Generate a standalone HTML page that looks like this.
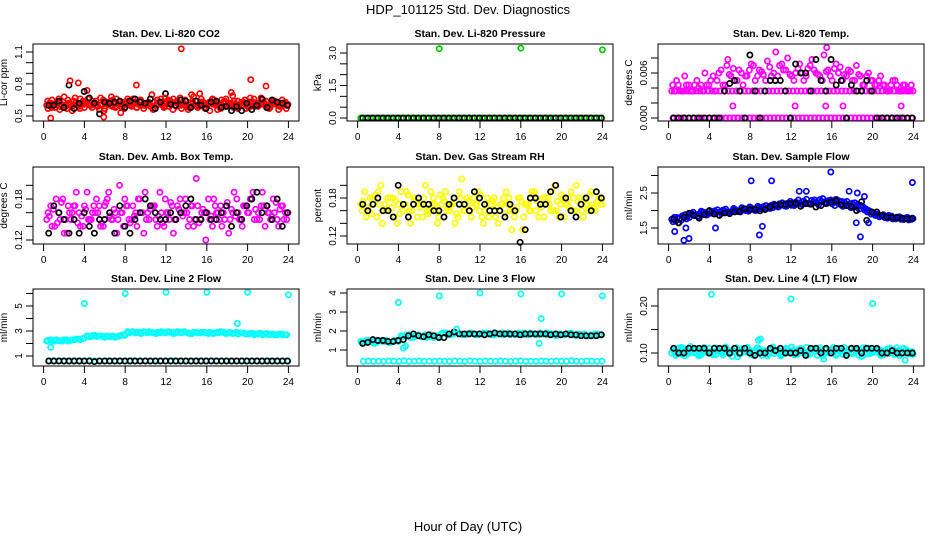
<!DOCTYPE html>
<html><head><meta charset="utf-8"><style>
html,body{margin:0;padding:0;background:#fff;}
svg{display:block;font-family:"Liberation Sans",sans-serif;}
</style></head><body>
<svg id="chart" width="936" height="540" viewBox="0 0 936 540" xmlns="http://www.w3.org/2000/svg">
<text x="468" y="14" text-anchor="middle" font-size="13">HDP_101125  Std. Dev. Diagnostics</text>
<text x="468" y="531" text-anchor="middle" font-size="13">Hour of Day (UTC)</text>
</svg>
<script>
const xTicks=[0,4,8,12,16,20,24];
// P1 CO2
const co2A=[0.60,0.62,0.58,0.66,0.63,0.57,0.61,0.67,0.59,0.64,0.74,0.60,0.62,0.56,0.65,0.61,0.68,0.58,0.63,0.60,0.66,0.59,0.62,0.64,0.57,0.61,0.70,0.60,0.63,0.58,0.65,0.62,0.59,0.67,0.61,0.56,0.64,0.60,0.63,0.58,0.62,0.66,0.60,0.57,0.64,0.61,0.69,0.59,0.62,0.65,0.58,0.63,0.60,0.67,0.61,0.57,0.64,0.62,0.59,0.63];
const co2B=[0.57,0.65,0.61,0.59,0.68,0.62,0.55,0.63,0.66,0.58,0.61,0.64,0.60,0.67,0.57,0.62,0.65,0.59,0.53,0.63,0.61,0.66,0.58,0.64,0.60,0.62,0.56,0.65,0.61,0.63,0.59,0.66,0.62,0.57,0.64,0.60,0.68,0.58,0.63,0.61,0.55,0.65,0.62,0.59,0.66,0.60,0.64,0.57,0.63,0.61,0.67,0.59,0.62,0.65,0.58,0.60,0.64,0.56,0.62,0.60];
const co2C=[0.62,0.60,0.63,0.61,0.59,0.62,0.64,0.60,0.61,0.63,0.60,0.62,0.59,0.61,0.63,0.60,0.62,0.61,0.58,0.62,0.60,0.63,0.61,0.60,0.62,0.59,0.63,0.61,0.60,0.62,0.64,0.60,0.61,0.63,0.59,0.62,0.60,0.61,0.63,0.60,0.62,0.61,0.59,0.63,0.60,0.62,0.61,0.60,0.63,0.59,0.62,0.60,0.61,0.63,0.60,0.62,0.61,0.59,0.62,0.61];
const co2D=[0.64,0.58,0.62,0.56,0.60,0.65,0.59,0.63,0.57,0.61,0.66,0.58,0.64,0.60,0.55,0.63,0.59,0.66,0.61,0.57,0.64,0.62,0.58,0.65,0.60,0.63,0.57,0.61,0.66,0.59,0.62,0.56,0.64,0.60,0.65,0.58,0.62,0.59,0.66,0.57,0.63,0.61,0.56,0.65,0.59,0.62,0.58,0.64,0.60,0.57,0.63,0.66,0.59,0.61,0.64,0.58,0.62,0.60,0.65,0.57];
const co2OutT=[13.5,2.6,3.4,9.1,20.3,21.8,0.7,5.9,18.4,15.3,11.9,14.5];
const co2OutV=[1.13,0.83,0.81,0.79,0.84,0.78,0.48,0.49,0.72,0.71,0.67,0.70];
const co2K=[0.60,0.60,0.64,0.58,0.79,0.57,0.62,0.73,0.67,0.62,0.52,0.63,0.62,0.63,0.64,0.58,0.64,0.66,0.63,0.62,0.66,0.57,0.63,0.71,0.61,0.60,0.65,0.64,0.58,0.64,0.60,0.57,0.63,0.64,0.58,0.59,0.55,0.59,0.55,0.62,0.56,0.60,0.66,0.58,0.65,0.63,0.62,0.60];
// P2 pressure
const presA=[0,0,0,0,0,0,0,0,0,0,0,0,0,0,0,0,0,0,0,0,0,0,0,0,0,0,0,0,0,0,0,0,0,0,0,0,0,0,0,0,0,0,0,0,0,0,0,0];
const presOutT=[8,16,24];
const presOutV=[3.2,3.22,3.15];
const presK=[0,0,0,0,0,0,0,0,0,0,0,0,0,0,0,0,0,0,0,0,0,0,0,0,0,0,0,0,0,0,0,0,0,0,0,0,0,0,0,0,0,0,0,0,0,0,0,0];
// P3 temp
const tmpA=[0.0036,0.0036,0.0036,0.0036,0.0036,0.0036,0.0036,0.0036,0.0036,0.0036,0.0036,0.0036,0.0036,0.0036,0.0036,0.0036,0.0036,0.0036,0.0036,0.0036,0.0036,0.0036,0.0036,0.0036,0.0036,0.0036,0.0036,0.0036,0.0036,0.0036,0.0036,0.0036,0.0036,0.0036,0.0036,0.0036,0.0036,0.0036,0.0036,0.0036,0.0036,0.0036,0.0036,0.0036,0.0036,0.0036,0.0036,0.0036,0.0036,0.0036,0.0036,0.0036,0.0036,0.0036,0.0036,0.0036,0.0036,0.0036,0.0036,0.0036];
const tmpB=[0,0,0,0,0,0,0,0,0,0,0,0,0,0,0,0,0,0,0,0,0,0,0,0,0,0,0,0,0,0,0,0,0,0,0,0,0,0,0,0,0,0,0,0,0,0,0,0,0,0,0,0,0,0,0,0,0,0,0,0];
const tmpC=[0.0036,0.0044,0.0036,0.0044,0.0036,0.0044,0.0040,0.0036,0.0044,0.0050,0.0036,0.0060,0.0044,0.0070,0.0056,0.0050,0.0064,0.0044,0.0056,0.0072,0.0050,0.0064,0.0058,0.0076,0.0056,0.0050,0.0070,0.0064,0.0080,0.0056,0.0060,0.0072,0.0050,0.0066,0.0078,0.0060,0.0056,0.0084,0.0064,0.0050,0.0072,0.0068,0.0058,0.0064,0.0050,0.0070,0.0056,0.0044,0.0060,0.0050,0.0044,0.0056,0.0044,0.0036,0.0050,0.0044,0.0036,0.0044,0.0036,0.0036];
const tmpD=[0.0044,0.0050,0.0036,0.0056,0.0044,0.0036,0.0050,0.0044,0.0060,0.0044,0.0056,0.0050,0.0064,0.0044,0.0058,0.0066,0.0050,0.0060,0.0056,0.0064,0.0070,0.0056,0.0062,0.0050,0.0068,0.0060,0.0056,0.0072,0.0064,0.0058,0.0050,0.0066,0.0060,0.0056,0.0070,0.0064,0.0058,0.0050,0.0062,0.0056,0.0066,0.0060,0.0050,0.0056,0.0062,0.0050,0.0058,0.0044,0.0056,0.0050,0.0044,0.0050,0.0044,0.0036,0.0044,0.0050,0.0036,0.0044,0.0036,0.0044];
const tmpOutT=[15.5,10.5,5.8,6.3,12.4,15.4,17.1,22.8];
const tmpOutV=[0.0094,0.0088,0.0078,0.0016,0.0016,0.0016,0.0016,0.0016];
const tmpK=[0,0,0,0,0,0,0,0,0,0,0.0036,0.0046,0.0050,0.0036,0,0.0084,0.0036,0,0.0036,0.0050,0.0050,0.0050,0.0036,0,0.0072,0.0060,0.0060,0.0036,0.0078,0.0050,0.0036,0.0078,0.0044,0.0050,0,0.0044,0.0036,0.0036,0.0050,0.0036,0,0,0,0,0,0,0,0];
// P4 amb box temp
const ambA=[.15,.17,.14,.16,.18,.13,.15,.17,.16,.14,.19,.15,.16,.17,.14,.18,.15,.16,.20,.14,.17,.15,.16,.18,.13,.16,.17,.15,.19,.14,.16,.17,.15,.18,.16,.14,.17,.21,.15,.16,.18,.14,.16,.17,.15,.13,.16,.18,.15,.17,.16,.19,.15,.17,.14,.16,.18,.15,.17,.16];
const ambB=[.16,.14,.18,.15,.13,.17,.16,.19,.14,.17,.15,.16,.18,.14,.17,.19,.15,.13,.16,.18,.15,.17,.14,.16,.19,.15,.17,.14,.16,.18,.15,.13,.17,.16,.18,.15,.14,.17,.16,.12,.15,.18,.16,.14,.17,.15,.19,.16,.14,.17,.18,.15,.16,.19,.17,.15,.16,.14,.17,.15];
const ambC=[.155,.165,.145,.175,.15,.16,.17,.145,.155,.165,.15,.17,.16,.145,.175,.155,.165,.15,.16,.17,.145,.155,.18,.16,.15,.165,.17,.155,.145,.16,.175,.15,.165,.155,.16,.17,.15,.145,.165,.16,.155,.17,.15,.16,.175,.165,.155,.15,.17,.16,.18,.165,.15,.17,.16,.155,.175,.165,.15,.16];
const ambK=[.13,.17,.16,.15,.13,.15,.13,.16,.14,.13,.15,.15,.16,.13,.17,.14,.13,.15,.16,.18,.17,.16,.15,.15,.16,.15,.16,.17,.18,.15,.15,.16,.15,.15,.16,.17,.14,.16,.15,.17,.18,.19,.16,.17,.15,.18,.14,.16];
// P5 RH
const rhA=[.17,.19,.16,.18,.15,.20,.17,.16,.18,.14,.19,.17,.16,.18,.15,.17,.20,.16,.18,.14,.17,.19,.16,.18,.15,.21,.17,.16,.18,.19,.15,.17,.16,.18,.14,.17,.19,.16,.15,.18,.13,.17,.16,.19,.15,.18,.17,.16,.20,.15,.18,.17,.19,.16,.18,.15,.17,.19,.16,.18];
const rhB=[.16,.15,.18,.17,.19,.14,.16,.18,.15,.17,.16,.19,.14,.18,.17,.15,.16,.19,.17,.15,.18,.16,.17,.14,.19,.16,.18,.15,.17,.16,.14,.18,.17,.15,.16,.18,.17,.13,.16,.18,.15,.17,.19,.16,.17,.15,.18,.19,.16,.17,.15,.18,.16,.20,.17,.18,.16,.17,.19,.17];
const rhC=[.175,.165,.155,.185,.17,.16,.18,.165,.175,.155,.17,.185,.16,.175,.165,.18,.155,.17,.16,.185,.175,.165,.17,.155,.18,.16,.175,.165,.17,.185,.16,.15,.175,.165,.17,.155,.18,.16,.165,.175,.17,.16,.185,.175,.165,.18,.17,.16,.175,.185,.17,.165,.18,.175,.16,.17,.185,.165,.175,.17];
const rhK=[.17,.16,.17,.18,.16,.16,.15,.20,.17,.15,.17,.18,.17,.17,.16,.16,.15,.17,.18,.17,.17,.16,.19,.18,.17,.16,.16,.16,.15,.17,.16,.11,.13,.18,.18,.17,.17,.19,.20,.15,.18,.16,.15,.17,.18,.16,.19,.18];
// P6 sample flow
const sfA=[1.75,1.70,1.78,1.82,1.85,1.90,1.88,1.92,1.95,1.90,1.97,1.93,1.96,1.99,1.94,1.98,2.00,1.96,2.02,1.98,2.05,2.01,2.06,2.04,2.10,2.08,2.12,2.15,2.13,2.18,2.16,2.20,2.18,2.22,2.19,2.24,2.21,2.26,2.23,2.28,2.25,2.22,2.26,2.20,2.18,2.15,2.17,2.12,2.05,1.98,1.92,1.88,1.85,1.82,1.80,1.78,1.80,1.77,1.79,1.76];
const sfB=[1.68,1.80,1.72,1.88,1.80,1.95,1.84,1.98,1.89,2.00,1.91,2.02,1.92,2.04,1.95,2.06,1.97,2.08,2.00,2.10,2.02,2.12,2.04,2.14,2.06,2.18,2.10,2.22,2.12,2.26,2.14,2.30,2.17,2.32,2.18,2.30,2.16,2.34,2.20,2.30,2.14,2.28,2.12,2.26,2.08,2.22,2.04,2.10,1.96,1.90,1.86,1.82,1.88,1.78,1.84,1.76,1.82,1.74,1.80,1.75];
const sfC=[1.80,1.65,1.85,1.76,1.92,1.86,1.82,1.95,1.87,1.93,1.99,1.88,2.01,1.94,1.97,2.03,1.99,2.05,2.03,2.07,2.00,2.09,2.11,2.07,2.15,2.13,2.19,2.17,2.21,2.15,2.24,2.22,2.27,2.20,2.29,2.23,2.31,2.24,2.28,2.19,2.32,2.18,2.24,2.14,2.21,2.10,2.15,2.02,2.00,1.94,1.90,1.84,1.80,1.86,1.76,1.81,1.75,1.78,1.73,1.77];
const sfOutT=[0.6,1.5,2.0,1.7,4.6,8.1,10.1,8.9,9.2,15.9,18.8,18.4,19.6,17.7,18.5,23.9,13.5,12.8,19.2];
const sfOutV=[1.40,1.15,1.20,1.50,1.50,2.85,2.85,1.30,1.55,3.10,1.25,1.65,1.65,2.55,2.50,2.80,2.55,2.55,2.40];
const sfK=[1.75,1.65,1.80,1.92,1.86,1.78,1.88,1.98,1.90,1.86,1.93,1.91,1.96,1.97,2.05,2.02,2.04,1.99,2.03,2.10,2.15,2.17,2.18,2.20,2.20,2.12,2.20,2.18,2.10,2.14,2.20,2.24,2.28,2.16,2.14,2.12,2.00,2.25,1.72,1.96,1.96,1.86,1.82,1.80,1.80,1.78,1.76,1.78];
// P7 line 2
const l2A=[2.2,2.3,2.2,2.25,2.2,2.3,2.25,2.3,2.35,2.4,2.6,2.55,2.65,2.6,2.55,2.6,2.55,2.5,2.6,2.7,2.95,2.9,2.85,2.9,2.95,2.85,2.9,2.8,2.85,2.9,2.95,2.9,2.85,2.9,2.95,2.85,2.8,2.9,2.85,2.9,2.8,2.85,2.9,2.95,2.9,2.85,2.8,2.9,2.85,2.8,2.75,2.8,2.75,2.8,2.75,2.7,2.75,2.7,2.75,2.7];
const l2B=[2.25,2.15,2.3,2.2,2.3,2.2,2.3,2.35,2.3,2.45,2.55,2.65,2.55,2.6,2.5,2.55,2.6,2.55,2.65,2.65,2.85,2.95,2.9,2.8,2.9,2.95,2.85,2.9,2.95,2.85,2.9,2.8,2.95,2.85,2.9,2.8,2.9,2.85,2.9,2.85,2.9,2.8,2.85,2.9,2.8,2.9,2.85,2.75,2.85,2.75,2.8,2.7,2.8,2.7,2.8,2.75,2.7,2.75,2.7,2.7];
const l2Low=[0.62,0.6,0.62,0.6,0.61,0.62,0.6,0.62,0.63,0.6,0.61,0.62,0.6,0.61,0.62,0.6,0.63,0.61,0.6,0.62,0.61,0.6,0.62,0.61,0.63,0.6,0.62,0.61,0.6,0.62,0.61,0.6,0.63,0.61,0.6,0.62,0.6,0.61,0.62,0.6,0.62,0.61,0.6,0.62,0.61,0.6,0.62,0.61];
const l2OutT=[0.7,4.0,8.0,12.0,16.0,20.0,24.0,19.0];
const l2OutV=[1.7,5.2,6.0,6.1,6.1,6.1,5.9,3.6];
const l2K=[0.6,0.6,0.6,0.6,0.6,0.6,0.6,0.6,0.6,0.55,0.6,0.6,0.6,0.6,0.6,0.6,0.6,0.6,0.6,0.6,0.6,0.6,0.6,0.6,0.6,0.6,0.6,0.6,0.6,0.6,0.6,0.6,0.6,0.6,0.6,0.6,0.6,0.6,0.6,0.6,0.6,0.6,0.6,0.6,0.6,0.6,0.6,0.6];
// P8 line 3
const l3A=[1.45,1.4,1.5,1.45,1.4,1.5,1.45,1.4,1.45,1.5,1.75,1.7,1.8,1.65,1.75,1.7,1.8,1.7,1.65,1.75,1.85,1.9,1.8,1.85,1.9,1.85,1.8,1.9,1.85,1.8,1.85,1.9,1.85,1.8,1.85,1.9,1.85,1.8,1.85,1.9,1.8,1.85,1.9,1.85,1.8,1.85,1.9,1.85,1.8,1.85,1.8,1.85,1.9,1.8,1.85,1.8,1.75,1.8,1.85,1.8];
const l3B=[1.4,1.5,1.45,1.35,1.5,1.45,1.5,1.4,1.5,1.45,1.7,1.8,1.65,1.75,1.8,1.7,1.65,1.8,1.75,1.7,1.9,1.85,1.8,1.9,1.85,1.8,1.85,1.9,1.8,1.85,1.9,1.85,1.8,1.9,1.85,1.8,1.9,1.85,1.8,1.85,1.9,1.8,1.85,1.8,1.9,1.85,1.8,1.85,1.75,1.85,1.8,1.85,1.8,1.75,1.8,1.85,1.75,1.8,1.85,1.8];
const l3Low=[0.4,0.42,0.4,0.41,0.4,0.42,0.41,0.4,0.43,0.4,0.41,0.42,0.4,0.41,0.4,0.42,0.41,0.4,0.42,0.41,0.4,0.43,0.41,0.4,0.42,0.41,0.4,0.42,0.41,0.4,0.41,0.42,0.4,0.41,0.4,0.42,0.41,0.4,0.42,0.41,0.4,0.43,0.41,0.4,0.42,0.41,0.4,0.41];
const l3OutT=[4.0,8.0,12.0,16.0,20.0,24.0,18.0,17.8,4.5,4.7,9.7];
const l3OutV=[3.5,3.85,4.0,3.95,3.95,3.85,2.65,1.35,1.1,1.2,2.1];
const l3K=[1.35,1.4,1.55,1.5,1.5,1.45,1.45,1.5,1.55,1.75,1.85,1.75,1.7,1.8,1.75,1.65,1.65,1.85,1.95,1.85,1.85,1.85,1.85,1.85,1.8,1.85,1.9,1.85,1.85,1.85,1.85,1.8,1.85,1.85,1.85,1.85,1.85,1.8,1.85,1.8,1.85,1.8,1.8,1.75,1.75,1.75,1.75,1.8];
// P9 line 4
const l4A=[.100,.095,.105,.110,.098,.102,.108,.095,.112,.100,.104,.097,.109,.101,.106,.093,.111,.099,.103,.107,.096,.110,.100,.105,.098,.113,.102,.094,.108,.101,.106,.097,.110,.099,.104,.109,.095,.103,.107,.100,.112,.098,.105,.096,.109,.101,.106,.093,.111,.099,.104,.108,.096,.102,.110,.097,.105,.100,.107,.098];
const l4B=[.106,.099,.112,.094,.103,.108,.100,.097,.105,.110,.096,.107,.101,.113,.098,.104,.092,.109,.102,.106,.100,.111,.095,.103,.108,.099,.105,.097,.110,.102,.096,.107,.101,.112,.098,.104,.106,.094,.109,.100,.103,.110,.097,.105,.101,.108,.095,.111,.099,.104,.102,.107,.096,.109,.100,.105,.094,.110,.101,.103];
const l4C=[.103,.110,.097,.106,.114,.100,.094,.108,.102,.099,.111,.104,.096,.107,.101,.109,.098,.105,.112,.097,.103,.108,.100,.094,.110,.104,.099,.107,.102,.113,.098,.105,.100,.096,.109,.103,.111,.099,.101,.107,.095,.104,.112,.100,.098,.106,.103,.097,.110,.101,.108,.095,.105,.099,.104,.111,.098,.106,.102,.097];
const l4OutT=[4.2,12.0,20.0,9.0,8.8,15.2,23.2];
const l4OutV=[.225,.215,.205,.13,.127,.087,.085];
const l4K=[.11,.10,.10,.11,.11,.11,.11,.10,.11,.11,.11,.10,.11,.10,.11,.10,.095,.10,.10,.11,.105,.11,.10,.10,.10,.105,.095,.11,.11,.10,.11,.10,.11,.11,.095,.11,.11,.10,.11,.11,.11,.10,.10,.105,.10,.10,.10,.10];

const colX=[33,347,658], rowY=[44,167,289], BW=266, BH=77;
const panels=[
 {name:'co2',title:'Stan. Dev. Li-820 CO2',ylab:'Li-cor ppm',c:0,r:0,col:'#ff0000',v0:0.5,p0:116,v1:1.1,p1:52,ticks:[0.5,0.6,0.7,0.8,0.9,1.0,1.1],labels:['0.5','','','0.8','','','1.1'],series:[co2A,co2B,co2C,co2D],ot:co2OutT,ov:co2OutV,k:co2K},
 {name:'pressure',title:'Stan. Dev. Li-820 Pressure',ylab:'kPa',c:1,r:0,col:'#00cc00',v0:0,p0:118,v1:3,p1:53,ticks:[0,0.5,1,1.5,2,2.5,3],labels:['0.0','','','1.5','','','3.0'],series:[presA],ot:presOutT,ov:presOutV,k:presK},
 {name:'temp',title:'Stan. Dev. Li-820 Temp.',ylab:'degrees C',c:2,r:0,col:'#ff00ff',v0:0,p0:118,v1:0.006,p1:73,ticks:[0,0.002,0.004,0.006,0.008],labels:['0.000','','','0.006',''],series:[tmpA,tmpB,tmpC,tmpD],ot:tmpOutT,ov:tmpOutV,k:tmpK},
 {name:'amb-box-temp',title:'Stan. Dev. Amb. Box Temp.',ylab:'degrees C',c:0,r:1,col:'#ff00ff',v0:0.12,p0:240,v1:0.18,p1:199,ticks:[0.12,0.14,0.16,0.18,0.20],labels:['0.12','','','0.18',''],series:[ambA,ambB,ambC],ot:[],ov:[],k:ambK},
 {name:'gas-rh',title:'Stan. Dev. Gas Stream RH',ylab:'percent',c:1,r:1,col:'#ffff00',v0:0.12,p0:236,v1:0.18,p1:198,ticks:[0.12,0.14,0.16,0.18,0.20],labels:['0.12','','','0.18',''],series:[rhA,rhB,rhC],ot:[],ov:[],k:rhK},
 {name:'sample-flow',title:'Stan. Dev. Sample Flow',ylab:'ml/min',c:2,r:1,col:'#0000ff',v0:1.5,p0:228,v1:2.5,p1:193,ticks:[1.5,2.0,2.5,3.0],labels:['1.5','','2.5',''],series:[sfA,sfB,sfC],ot:sfOutT,ov:sfOutV,k:sfK},
 {name:'line2-flow',title:'Stan. Dev. Line 2 Flow',ylab:'ml/min',c:0,r:2,col:'#00ffff',v0:1,p0:356,v1:5,p1:306,ticks:[1,2,3,4,5,6],labels:['1','','3','','5',''],series:[l2A,l2B,l2Low],ot:l2OutT,ov:l2OutV,k:l2K},
 {name:'line3-flow',title:'Stan. Dev. Line 3 Flow',ylab:'ml/min',c:1,r:2,col:'#00ffff',v0:1,p0:350,v1:4,p1:293,ticks:[1,2,3,4],labels:['1','2','3','4'],series:[l3A,l3B,l3Low],ot:l3OutT,ov:l3OutV,k:l3K},
 {name:'line4-flow',title:'Stan. Dev. Line 4 (LT) Flow',ylab:'ml/min',c:2,r:2,col:'#00ffff',v0:0.1,p0:353,v1:0.2,p1:306,ticks:[0.10,0.15,0.20],labels:['0.10','','0.20'],series:[l4A,l4B,l4C],ot:l4OutT,ov:l4OutV,k:l4K}
];
const NS='http://www.w3.org/2000/svg', svg=document.getElementById('chart');
function mk(tag,attrs,parent){const e=document.createElementNS(NS,tag);for(const a in attrs)e.setAttribute(a,attrs[a]);(parent||svg).appendChild(e);return e;}
panels.forEach(p=>{
 const L=colX[p.c], T=rowY[p.r], B=T+BH, R=L+BW;
 const xs=t=>L+10.6+t/24*(BW-21.2);
 const ys=v=>p.p0+(v-p.v0)/(p.v1-p.v0)*(p.p1-p.p0);
 const g=mk('g',{});
 
 
 const tt=mk('text',{x:(L+R)/2,y:T-7,'text-anchor':'middle','font-size':'10.5','font-weight':'bold'},g);tt.textContent=p.title;
 
 
 const pts=mk('g',{fill:'none','stroke-width':'1.7'},g);
 
 
 const dot=(t,v,c)=>{const y=ys(v);if(y<T-2||y>B+2)return;const e=mk('circle',{cx:xs(t).toFixed(1),cy:y.toFixed(1),r:'2.6',stroke:c},pts);
  
  };
 p.series.forEach((s,si)=>{const n=s.length;s.forEach((v,i)=>dot(0.3+(si*0.13)%0.3+i*23.4/(n-1),v,p.col));});
 p.k.forEach((v,i)=>dot(0.5+i*23.4/(p.k.length-1),v,'#000'));
 p.ot.forEach((t,i)=>dot(t,p.ov[i],p.col));
 const box=mk('rect',{x:L,y:T,width:BW,height:BH,fill:'none',stroke:'#000','stroke-width':'1'},g);
 
 
 const ax=mk('g',{stroke:'#000','stroke-width':'1'},g);
 
 
 mk('line',{x1:xs(0),x2:xs(24),y1:B,y2:B},ax);
 xTicks.forEach(t=>{mk('line',{x1:xs(t),x2:xs(t),y1:B,y2:B+7},ax);
  const l=mk('text',{x:xs(t),y:B+19,'text-anchor':'middle','font-size':'10',stroke:'none'},g);l.textContent=t;
  
  });
 const tv=p.ticks.filter(v=>ys(v)>=T-1);
 mk('line',{x1:L,x2:L,y1:ys(tv[0]),y2:ys(tv[tv.length-1])},ax);
 p.ticks.forEach((v,i)=>{const y=ys(v);if(y<T-1)return;mk('line',{x1:L-7,x2:L,y1:y,y2:y},ax);
  if(p.labels[i]){const l=mk('text',{x:L-11,y:y,'text-anchor':'middle','font-size':'10',transform:`rotate(-90 ${L-11} ${y})`},g);l.textContent=p.labels[i];
  
  }});
 const yl=mk('text',{x:L-26,y:(T+B)/2,'text-anchor':'middle','font-size':'10',transform:`rotate(-90 ${L-26} ${(T+B)/2})`},g);yl.textContent=p.ylab;
 
 
});
</script>
</body></html>
